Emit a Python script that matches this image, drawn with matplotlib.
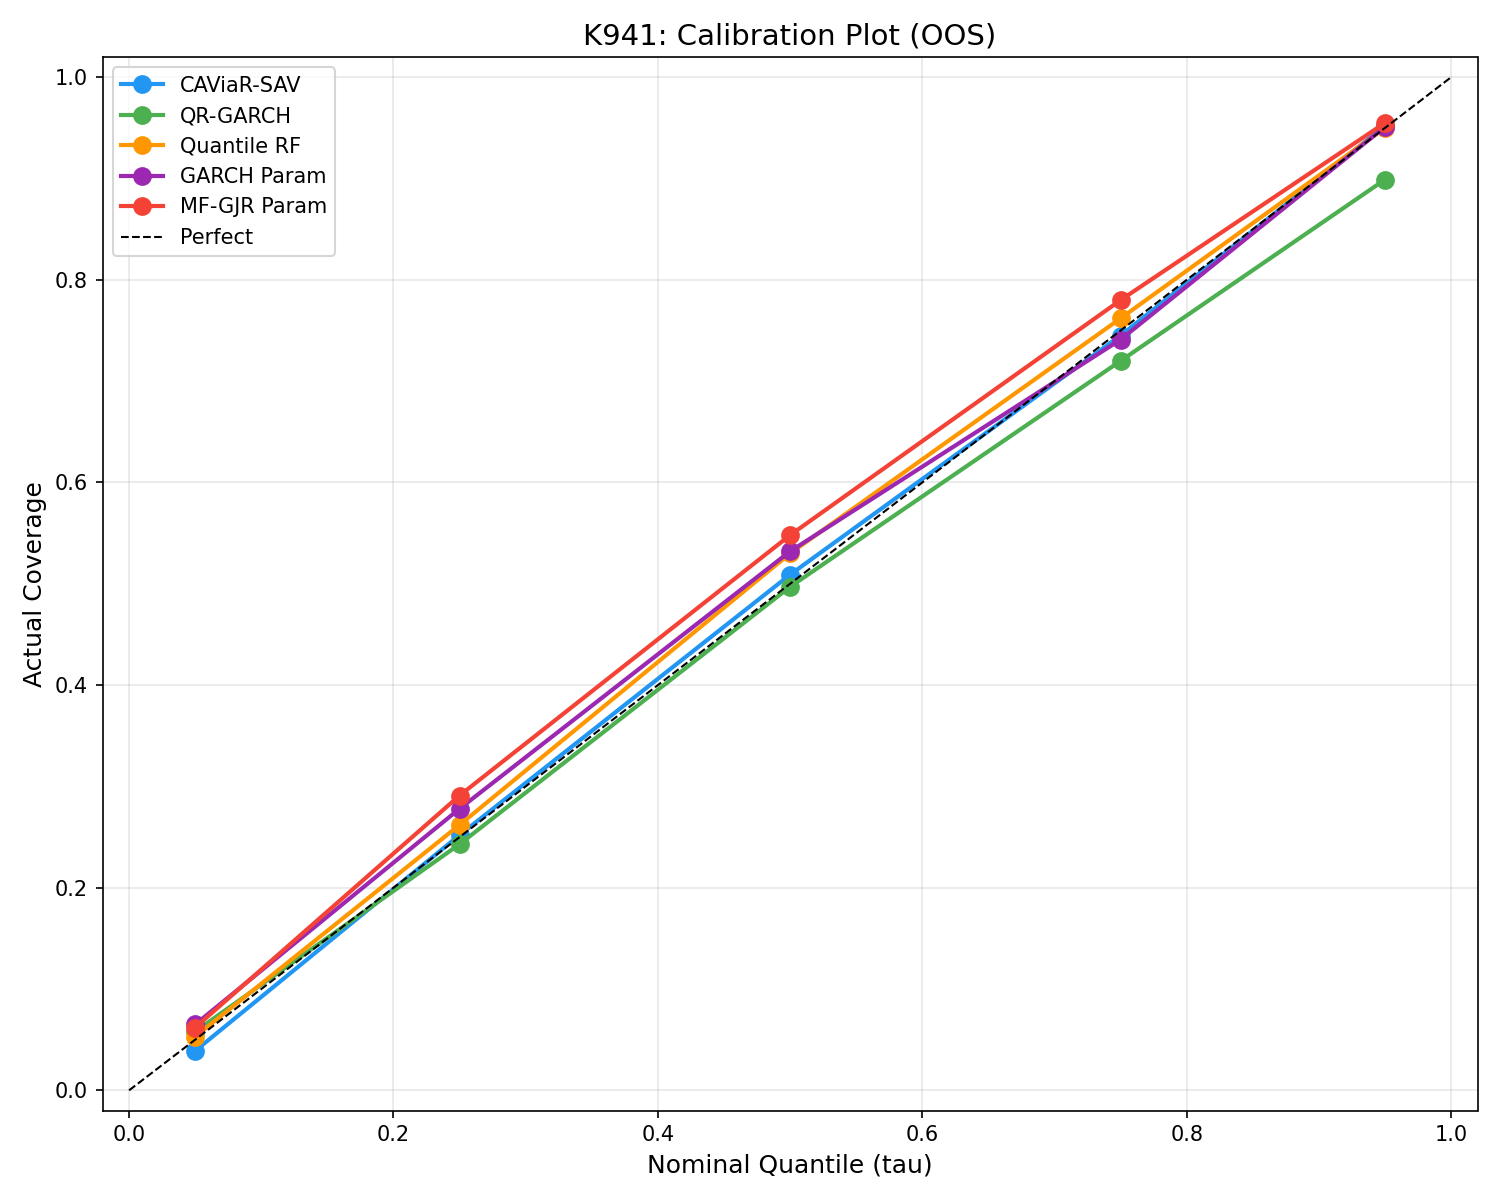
import numpy as np
import matplotlib
matplotlib.use('Agg')
import matplotlib.pyplot as plt

taus = [0.05, 0.25, 0.5, 0.75, 0.95]

caviar_sav  = [0.039, 0.252, 0.509, 0.745, 0.952]
qr_garch    = [0.058, 0.243, 0.497, 0.720, 0.899]
quantile_rf = [0.053, 0.262, 0.530, 0.762, 0.950]
garch_param = [0.065, 0.278, 0.532, 0.741, 0.951]
mfgjr_param = [0.062, 0.291, 0.548, 0.780, 0.955]

names  = ['CAViaR-SAV', 'QR-GARCH', 'Quantile RF', 'GARCH Param', 'MF-GJR Param']
series = [caviar_sav, qr_garch, quantile_rf, garch_param, mfgjr_param]
colors = ['#2196F3', '#4CAF50', '#FF9800', '#9C27B0', '#F44336']

fig, ax = plt.subplots(figsize=(10, 8), dpi=150)
for name, vals, c in zip(names, series, colors):
    ax.plot(taus, vals, marker='o', color=c, linewidth=2, markersize=8, label=name)
ax.plot([0, 1], [0, 1], 'k--', linewidth=1, label='Perfect')

ax.set_xlim(-0.02, 1.02)
ax.set_ylim(-0.02, 1.02)
ax.set_xlabel('Nominal Quantile (tau)', fontsize=12)
ax.set_ylabel('Actual Coverage', fontsize=12)
ax.set_title('K941: Calibration Plot (OOS)', fontsize=14)
ax.legend(loc='upper left')
ax.grid(True, alpha=0.3)
plt.tight_layout()
plt.savefig('out.png', dpi=150)
